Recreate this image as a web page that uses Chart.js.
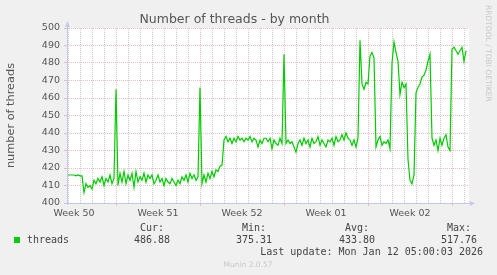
<!DOCTYPE html>
<html>
<head>
<meta charset="utf-8">
<script src="https://cdn.jsdelivr.net/npm/chart.js@4"></script>
<style>
  html, body { margin: 0; padding: 0; background: #f0f0f0; }
  #chart { display: block; }
</style>
</head>
<body>
<canvas id="chart" width="497" height="275"></canvas>
<script>
// Data, one sample every 4 hours (x unit = 2 h)
const weekLabels = ['Week 50', 'Week 51', 'Week 52', 'Week 01', 'Week 02'];
const threads = [
    416, 416, 416, 416, 415.5, 416, 415.5, 415.5,
    406, 411, 409, 410, 408, 413, 411, 414, 412, 415, 410, 414, 412, 416, 411, 414,
    465,
    410, 417, 412, 418, 411, 416, 413, 417, 409, 418, 412, 415, 413, 417, 412, 416, 414, 416, 411, 413, 416, 412, 414, 410, 414,
    412, 411, 414, 412, 410, 413, 411, 415, 413, 416, 412, 417, 414, 416, 413, 415,
    466,
    411, 416, 412, 417, 414, 418, 415, 419, 418, 421, 421.5,
    436, 438, 435, 437, 434, 437, 435, 438, 436, 437, 435, 437, 436, 438, 435, 437, 436, 432, 436, 434, 437,
    437, 435, 437, 431, 436, 434, 433, 437, 434,
    485,
    434, 436, 434, 435, 432, 429, 434, 436, 433, 437, 434, 436, 432, 437, 434, 435, 438, 433, 436, 434,
    432, 436, 435, 437, 433, 438, 435, 436, 439, 436, 440, 437, 436, 433, 436, 432, 437,
    493,
    468, 465, 469, 468, 484, 486, 483,
    432, 436, 438, 433, 435, 434, 436, 431,
    480, 492, 486, 481, 462, 469, 466, 468, 425, 413, 411, 416, 463, 466, 468, 472, 473, 476, 481, 485,
    437,
    433, 436, 430, 437, 433, 437, 439, 432, 430,
    488,
    489, 487, 485, 487, 489, 481, 487
];
const statNames = ['Cur:', 'Min:', 'Avg:', 'Max:'];
const statValues = ['486.88', '375.31', '433.80', '517.76'];
const seriesName = 'threads';
const lastUpdate = 'Last update: Mon Jan 12 05:00:03 2026';

const STEP = 2;       // x units between samples
const WEEK = 84;      // x units per week
const FIRST_WEEK = 50; // x of first week boundary

const RED_GRID = 'rgba(225, 150, 150, 0.6)';
const GRAY_GRID = 'rgba(200, 200, 200, 0.9)';
const AXIS = '#c4c8f0';

const points = threads.map((v, i) => ({ x: STEP * (i + 1), y: v }));

// white plot area, axes with arrows, legend and footer texts
const munin = {
    id: 'munin',
    beforeDraw(chart) {
        const { ctx, chartArea: a } = chart;
        ctx.save();
        ctx.fillStyle = '#ffffff';
        ctx.fillRect(a.left, a.top, a.right - a.left, a.bottom - a.top);
        ctx.restore();
    },
    afterDraw(chart) {
        const { ctx, chartArea: a } = chart;
        ctx.save();
        // axes
        ctx.strokeStyle = AXIS;
        ctx.fillStyle = AXIS;
        ctx.lineWidth = 1;
        ctx.beginPath();
        ctx.moveTo(a.left + 0.5, a.bottom + 2);
        ctx.lineTo(a.left + 0.5, a.top - 4);
        ctx.moveTo(a.left - 2, a.bottom + 0.5);
        ctx.lineTo(a.right + 2, a.bottom + 0.5);
        ctx.stroke();
        ctx.beginPath();
        ctx.moveTo(a.left - 2, a.top - 1);
        ctx.lineTo(a.left + 3, a.top - 1);
        ctx.lineTo(a.left + 0.5, a.top - 7);
        ctx.closePath();
        ctx.fill();
        ctx.beginPath();
        ctx.moveTo(a.right + 1, a.bottom - 2);
        ctx.lineTo(a.right + 1, a.bottom + 3);
        ctx.lineTo(a.right + 6, a.bottom + 0.5);
        ctx.closePath();
        ctx.fill();

        // legend
        ctx.fillStyle = '#00cc00';
        ctx.fillRect(14, 237, 6, 6);
        ctx.font = '10px "DejaVu Sans Mono"';
        ctx.fillStyle = '#444';
        ctx.textBaseline = 'middle';
        ctx.textAlign = 'left';
        ctx.fillText(seriesName, 27, 240);
        const colRight = [170, 272, 375, 477];
        ctx.textAlign = 'right';
        statNames.forEach((s, i) => ctx.fillText(s + ' ', colRight[i], 228));
        statValues.forEach((s, i) => ctx.fillText(s, colRight[i], 240));
        ctx.fillText(lastUpdate, 483, 252);

        // footer and watermark
        ctx.fillStyle = '#c8c8c8';
        ctx.font = '7.5px "DejaVu Sans"';
        ctx.textAlign = 'center';
        ctx.fillText('Munin 2.0.57', 248, 265);
        ctx.translate(488, 5);
        ctx.rotate(Math.PI / 2);
        ctx.textAlign = 'left';
        ctx.fillText('RRDTOOL / TOBI OETIKER', 0, 0);
        ctx.restore();
    }
};

new Chart(document.getElementById('chart').getContext('2d'), {
    type: 'line',
    data: {
        datasets: [{
            label: seriesName,
            data: points,
            borderColor: '#00cc00',
            borderWidth: 1.2,
            pointRadius: 0,
            tension: 0,
            fill: false
        }]
    },
    options: {
        responsive: false,
        animation: false,
        events: [],
        layout: { padding: { top: 0, right: 28, bottom: 0, left: 0 } },
        plugins: {
            legend: { display: false },
            tooltip: { enabled: false },
            title: {
                display: true,
                text: 'Number of threads - by month',
                color: '#555',
                font: { family: 'DejaVu Sans', size: 12.5, weight: 'normal', lineHeight: 1.28 },
                padding: { top: 12, bottom: 0 }
            }
        },
        scales: {
            x: {
                type: 'linear',
                min: 1,
                max: 403,
                afterFit: s => { s.height = 72; },
                afterBuildTicks: s => {
                    const t = [];
                    for (let v = 2; v <= s.max; v += 6) t.push({ value: v });
                    s.ticks = t;
                },
                grid: {
                    color: c => {
                        const v = c.tick ? c.tick.value : 0;
                        if ((v - FIRST_WEEK) % WEEK === 0) return RED_GRID;
                        return (v - 2) % 12 === 0 ? GRAY_GRID : 'transparent';
                    },
                    tickColor: c => {
                        const v = c.tick ? c.tick.value : 0;
                        return (v - FIRST_WEEK) % WEEK === 0 ? RED_GRID : 'transparent';
                    },
                    tickLength: 3,
                    lineWidth: 1
                },
                border: { display: false, dash: [1, 1] },
                ticks: {
                    autoSkip: false,
                    maxRotation: 0,
                    padding: 2,
                    color: '#555',
                    font: { family: 'DejaVu Sans', size: 9.5 },
                    callback: v => {
                        const k = (v - (FIRST_WEEK - WEEK / 2)) / WEEK;
                        return Number.isInteger(k) && weekLabels[k] ? weekLabels[k] : '';
                    }
                }
            },
            y: {
                min: 400,
                max: 500,
                afterFit: s => { s.width = 67; },
                grid: {
                    color: c => (c.tick && c.tick.value % 10 === 0 ? RED_GRID : GRAY_GRID),
                    tickColor: c => (c.tick && c.tick.value % 10 === 0 ? RED_GRID : 'transparent'),
                    tickLength: 3,
                    lineWidth: 1
                },
                border: { display: false, dash: [1, 1] },
                ticks: {
                    stepSize: 5,
                    padding: 4,
                    color: '#555',
                    font: { family: 'DejaVu Sans', size: 9.5 },
                    callback: v => (v % 10 === 0 ? v : '')
                },
                title: {
                    display: true,
                    text: 'number of threads',
                    color: '#555',
                    font: { family: 'DejaVu Sans', size: 11.3 },
                    padding: { top: 4, bottom: 4 }
                }
            }
        }
    },
    plugins: [munin]
});
</script>
</body>
</html>
